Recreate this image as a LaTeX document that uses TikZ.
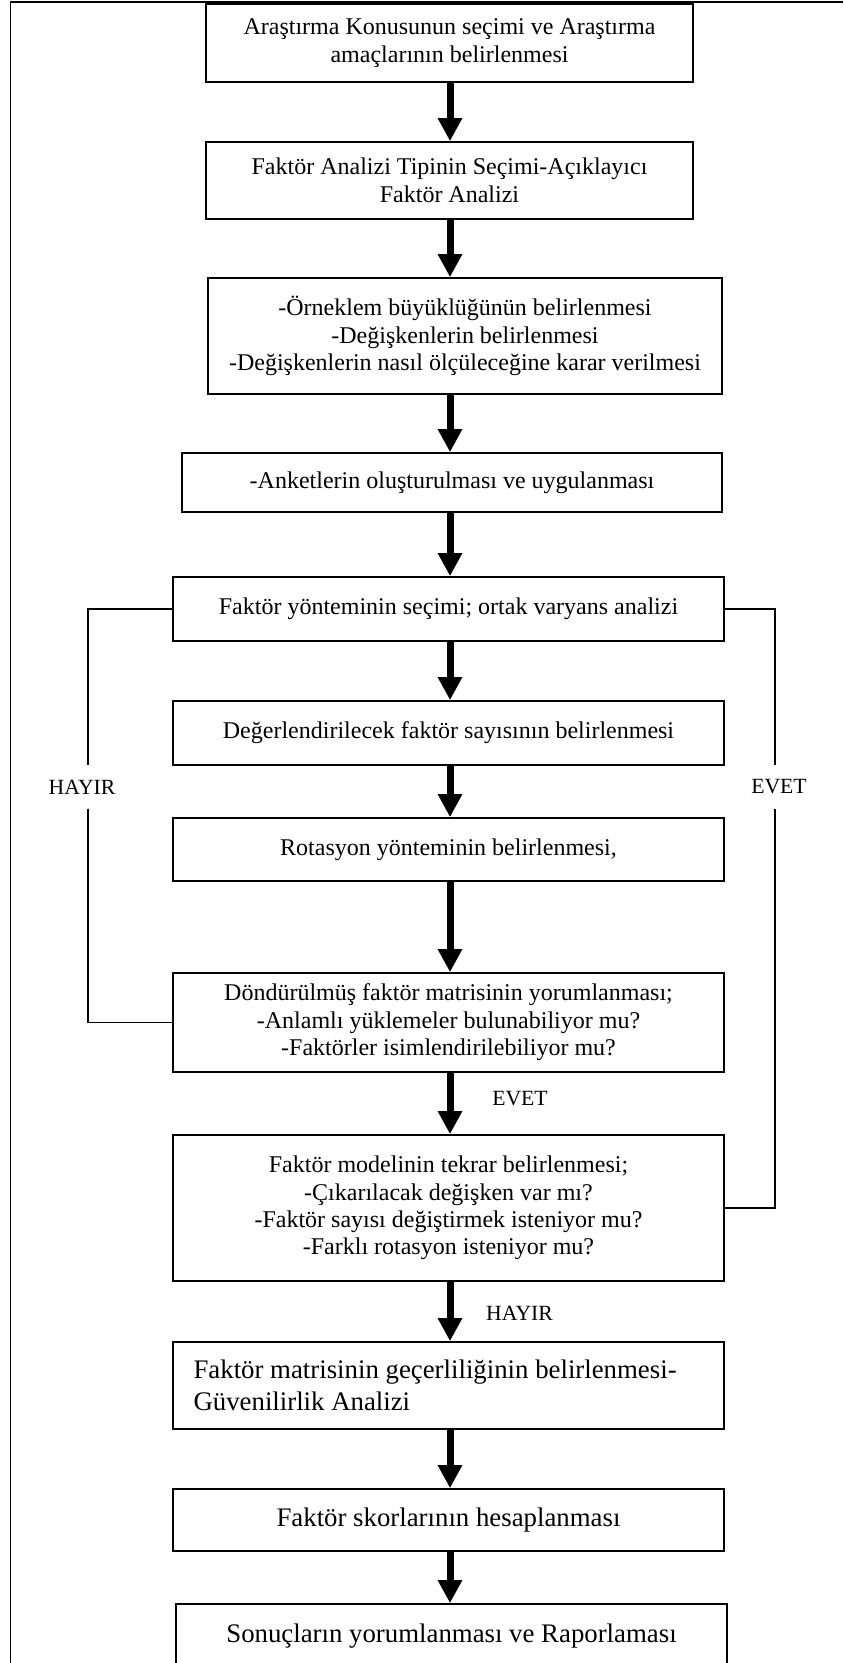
\documentclass[tikz,border=0pt]{standalone}
\usepackage{fontspec}
\setmainfont{Liberation Serif}
\usetikzlibrary{arrows.meta}
\begin{document}
\begin{tikzpicture}[x=0.5pt,y=-0.5pt,
  box/.style={draw, line width=0.85pt, fill=white, align=center, inner sep=0pt,
    font=\fontsize{12}{13.75}\selectfont},
  bigbox/.style={box, font=\fontsize{13.4}{16}\selectfont},
  flow/.style={line width=3.5pt, -{Triangle[length=11.5pt,width=11.5pt]}},
  loop/.style={line width=0.75pt},
  lbl/.style={font=\fontsize{10.85}{13}\selectfont, inner sep=0pt},
  sidelbl/.style={lbl, inner ysep=7pt},
  frame/.style={line width=0.65pt}]
\useasboundingbox (0,0) rectangle (843,1663);
\clip (0,0) rectangle (843,1663);

% page frame (left and top rules)
\draw[frame] (10.5,1663) -- (10.5,2) -- (843,2);

% process steps
\node[box, minimum width=243.5pt, minimum height=39pt] (b1) at (449.5,43)
  {Araştırma Konusunun seçimi ve Araştırma\\amaçlarının belirlenmesi};
\node[box, minimum width=243.5pt, minimum height=38.5pt] (b2) at (449.5,180.5)
  {Faktör Analizi Tipinin Seçimi-Açıklayıcı\\Faktör Analizi};
\node[box, minimum width=257pt, minimum height=58pt] (b3) at (465,336)
  {-Örneklem büyüklüğünün belirlenmesi\\-Değişkenlerin belirlenmesi\\-Değişkenlerin nasıl ölçüleceğine karar verilmesi};
\node[box, minimum width=270pt, minimum height=29.5pt] (b4) at (452,482.5)
  {-Anketlerin oluşturulması ve uygulanması};
\node[box, minimum width=275.5pt, minimum height=32pt] (b5) at (448.5,609)
  {Faktör yönteminin seçimi; ortak varyans analizi};
\node[box, minimum width=275.5pt, minimum height=32pt] (b6) at (448.5,733)
  {Değerlendirilecek faktör sayısının belirlenmesi};
\node[box, minimum width=275.5pt, minimum height=31.5pt] (b7) at (448.5,849.5)
  {Rotasyon yönteminin belirlenmesi,};
\node[box, minimum width=275.5pt, minimum height=49.5pt] (b8) at (448.5,1022.5)
  {Döndürülmüş faktör matrisinin yorumlanması;\\-Anlamlı yüklemeler bulunabiliyor mu?\\-Faktörler isimlendirilebiliyor mu?};
\node[box, minimum width=275.5pt, minimum height=73pt] (b9) at (448.5,1208)
  {Faktör modelinin tekrar belirlenmesi;\\-Çıkarılacak değişken var mı?\\-Faktör sayısı değiştirmek isteniyor mu?\\-Farklı rotasyon isteniyor mu?};
\node[box, minimum width=275.5pt, minimum height=43.5pt] (b10) at (448.5,1385.5) {};
\node[anchor=west, align=left, inner sep=0pt, font=\fontsize{13.4}{16}\selectfont]
  (b10t) at ([xshift=10.5pt]b10.west)
  {Faktör matrisinin geçerliliğinin belirlenmesi-\\Güvenilirlik Analizi};
\node[bigbox, minimum width=275.5pt, minimum height=31pt] (b11) at (448.5,1520)
  {Faktör skorlarının hesaplanması};
\node[bigbox, minimum width=275.5pt, minimum height=32pt] (b12) at (451.5,1636)
  {Sonuçların yorumlanması ve Raporlaması};

% main flow arrows
\coordinate (ax) at (450,0);
\draw[flow] (b1.south -| ax) -- (b2.north -| ax);
\draw[flow] (b2.south -| ax) -- (b3.north -| ax);
\draw[flow] (b3.south -| ax) -- (b4.north -| ax);
\draw[flow] (b4.south -| ax) -- (b5.north -| ax);
\draw[flow] (b5.south -| ax) -- (b6.north -| ax);
\draw[flow] (b6.south -| ax) -- (b7.north -| ax);
\draw[flow] (b7.south -| ax) -- (b8.north -| ax);
\draw[flow] (b8.south -| ax) -- (b9.north -| ax);
\draw[flow] (b9.south -| ax) -- (b10.north -| ax);
\draw[flow] (b10.south -| ax) -- (b11.north -| ax);
\draw[flow] (b11.south -| ax) -- (b12.north -| ax);

% decision labels on the main flow
\node[lbl] (evetM) at (520,1099) {EVET};
\node[lbl] (hayirM) at (519.5,1313) {HAYIR};

% feedback loops
\node[sidelbl] (hayirL) at (82,787) {HAYIR};
\draw[loop] (b5.west) -| ([xshift=3pt]hayirL.north);
\draw[loop] ([xshift=3pt]hayirL.south) |- (b8.west);
\node[sidelbl] (evetR) at (779,787) {EVET};
\draw[loop] (b5.east) -| ([xshift=-2pt]evetR.north);
\draw[loop] ([xshift=-2pt]evetR.south) |- (b9.east);
\end{tikzpicture}
\end{document}
